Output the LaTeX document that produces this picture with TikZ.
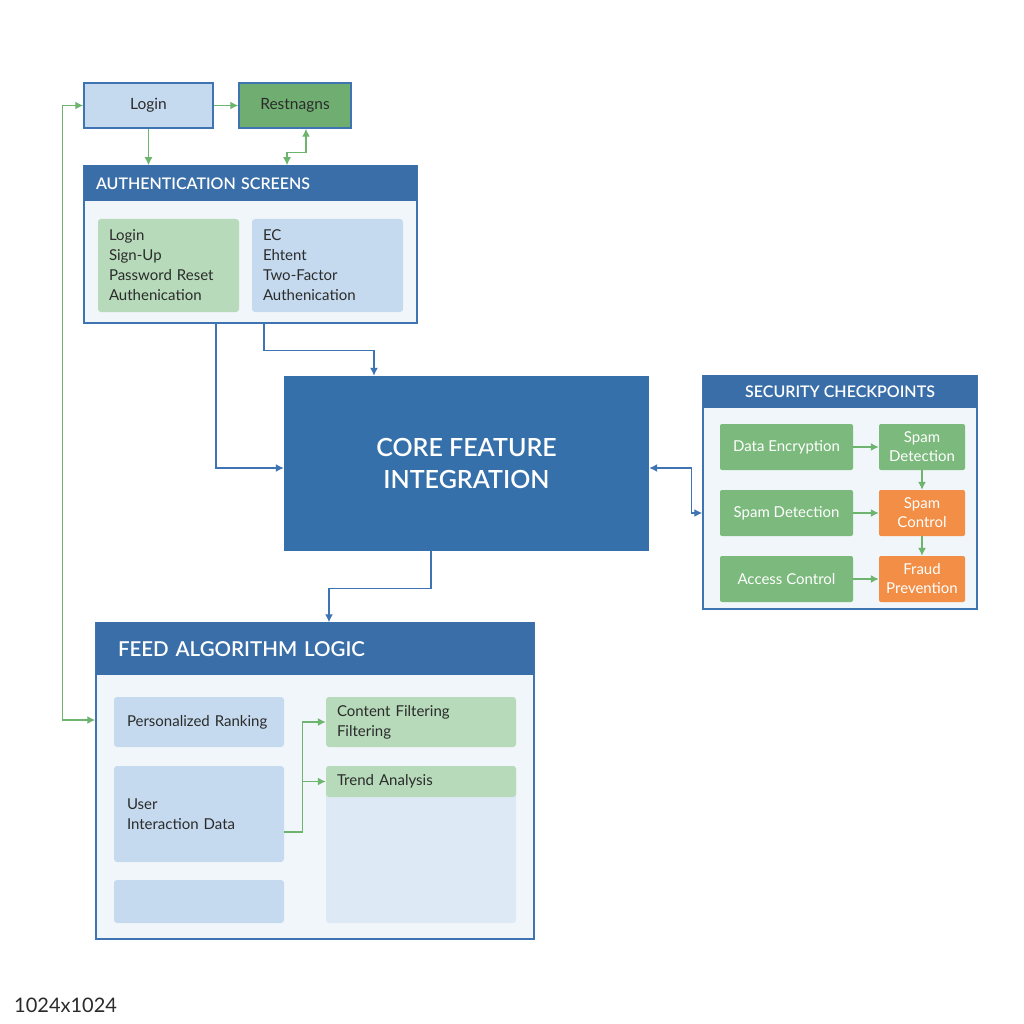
\documentclass[tikz,border=0pt]{standalone}
\usepackage{fontspec}
\setmainfont{Lato}
\newfontfamily\headfont{Lato Semibold}
\usetikzlibrary{positioning,arrows.meta}

\definecolor{hdrblue}{HTML}{3A6EA8}
\definecolor{edgeblue}{HTML}{3F74B2}
\definecolor{lightblue}{HTML}{C6DAEF}
\definecolor{panelbg}{HTML}{F1F6FA}
\definecolor{mintgreen}{HTML}{B6DABA}
\definecolor{midgreen}{HTML}{7BBA7C}
\definecolor{restgreen}{HTML}{6FAE70}
\definecolor{linkgreen}{HTML}{6DB56F}
\definecolor{alertorange}{HTML}{F28E45}
\definecolor{paleblue}{HTML}{DDE9F4}
\definecolor{corefill}{HTML}{3670AA}
\definecolor{textdark}{HTML}{2B2B2B}

\begin{document}
\begin{tikzpicture}[x=1pt,y=-1pt,>={Latex[length=8pt,width=8pt]},
  panel/.style={draw=edgeblue,line width=1.5pt,fill=panelbg,inner sep=0pt},
  header/.style={fill=hdrblue,inner sep=0pt,text=white,font=\headfont\fontsize{16}{19}\selectfont},
  subbox/.style={rounded corners=3pt,inner ysep=0pt,inner xsep=11pt,align=left,
    text=textdark,font=\fontsize{15}{20}\selectfont},
  checkbox/.style={rounded corners=2pt,inner sep=0pt,fill=midgreen,text=white,
    align=center,font=\fontsize{15}{19}\selectfont},
  bluelink/.style={draw=edgeblue,line width=1.4pt},
  greenlink/.style={draw=linkgreen,line width=1.4pt}]
\useasboundingbox[fill=white] (0,0) rectangle (1024,1024);

% top row
\node[draw=edgeblue,line width=1.5pt,fill=lightblue,minimum width=129pt,minimum height=45pt,
  text=textdark,font=\fontsize{15.5}{18}\selectfont] (login) at (148.5,105.5) {Login};
\node[draw=edgeblue,line width=1.5pt,fill=restgreen,minimum width=112pt,minimum height=45pt,
  text=textdark,font=\fontsize{15.5}{18}\selectfont] (rest) at (295,105.5) {Restnagns};

% authentication screens
\node[panel,minimum width=333pt,minimum height=157pt] (auth) at (250.5,244.5) {};
\node[header,minimum width=333pt,minimum height=36pt,text width=309pt,inner xsep=12pt,
  align=left,anchor=north] (authhead) at (auth.north) {AUTHENTICATION SCREENS};
\node[subbox,fill=mintgreen,minimum width=141pt,minimum height=93pt,text width=119pt]
  (authA) at (168.5,265.5) {Login\\Sign-Up\\Password Reset\\Authenication};
\node[subbox,fill=lightblue,minimum width=151pt,minimum height=93pt,text width=129pt]
  (authB) at (327.5,265.5) {EC\\Ehtent\\Two-Factor\\Authenication};

% core
\node[fill=corefill,minimum width=365pt,minimum height=175pt,align=center,text=white,
  font=\headfont\fontsize{25}{32}\selectfont] (core) at (466.5,463.5) {CORE FEATURE\\INTEGRATION};

% security checkpoints
\node[panel,minimum width=274pt,minimum height=233pt] (sec) at (840,492.5) {};
\node[header,minimum width=274pt,minimum height=33pt,anchor=north] (sechead) at (sec.north)
  {SECURITY CHECKPOINTS};
\node[checkbox,minimum width=133pt,minimum height=46pt] (encA) at (786.5,447) {Data Encryption};
\node[checkbox,minimum width=86pt,minimum height=46pt] (encB) at (922,447) {Spam\\Detection};
\node[checkbox,minimum width=133pt,minimum height=46pt] (spamA) at (786.5,513) {Spam Detection};
\node[checkbox,fill=alertorange,minimum width=86pt,minimum height=46pt] (spamB) at (922,513) {Spam\\Control};
\node[checkbox,minimum width=133pt,minimum height=46pt] (fraudA) at (786.5,579) {Access Control};
\node[checkbox,fill=alertorange,minimum width=86pt,minimum height=46pt] (fraudB) at (922,579) {Fraud\\Prevention};

% feed algorithm logic
\node[panel,minimum width=438pt,minimum height=316pt] (feed) at (315,781) {};
\node[header,minimum width=438pt,minimum height=53pt,text width=394pt,inner xsep=22pt,
  align=left,anchor=north,font=\headfont\fontsize{20.5}{25}\selectfont] (feedhead) at (feed.north)
  {FEED ALGORITHM LOGIC};
\node[subbox,fill=lightblue,minimum width=170pt,minimum height=50pt,text width=144pt,inner xsep=13pt]
  (rank) at (199,722) {Personalized Ranking};
\node[subbox,fill=lightblue,minimum width=170pt,minimum height=96pt,text width=144pt,inner xsep=13pt]
  (user) at (199,814) {User\\Interaction Data};
\node[subbox,fill=lightblue,minimum width=170pt,minimum height=43pt] (spare) at (199,901.5) {};
\node[subbox,fill=paleblue,minimum width=190pt,minimum height=157pt] (trendarea) at (421,844.5) {};
\node[subbox,fill=mintgreen,minimum width=190pt,minimum height=50pt,text width=168pt]
  (content) at (421,722) {Content Filtering\\Filtering};
\node[subbox,fill=mintgreen,minimum width=190pt,minimum height=31pt,text width=168pt]
  (trend) at (421,781.5) {Trend Analysis};

% connectors
\draw[greenlink,->] (login) -- (rest);
\draw[greenlink,->] (login.south) -- (login.south |- auth.north);
\draw[greenlink,<->] ([xshift=11pt]rest.south) -- ++(0,24) -| ([xshift=36.5pt]auth.north);
\draw[greenlink,<->] ([yshift=61pt]feed.west) -- ++(-33,0) |- (login.west);

\draw[bluelink,->] ([xshift=-34.5pt]auth.south) |- ([yshift=-4.5pt]core.west);
\draw[bluelink,->] ([xshift=13.5pt]auth.south) -- ++(0,27) -| ([xshift=-92.5pt]core.north);
\draw[bluelink,->] ([xshift=-35.5pt]core.south) -- ++(0,37) -| ([xshift=14pt]feed.north);
\draw[bluelink,<->] ([yshift=-4.5pt]core.east) -- ++(42,0) |- ([yshift=-20.5pt]sec.west);

\draw[greenlink,->] (encA) -- (encB);
\draw[greenlink,->] (spamA) -- (spamB);
\draw[greenlink,->] (fraudA) -- (fraudB);
\draw[greenlink,->] (encB) -- (spamB);
\draw[greenlink,->] (spamB) -- (fraudB);

\draw[greenlink,->] ([yshift=-18pt]user.east) -- ++(18,0) coordinate (fork) |- (content.west);
\draw[greenlink,->] (fork |- trend.west) -- (trend.west);

\node[anchor=west,text=textdark,inner sep=0pt,font=\fontsize{20}{22}\selectfont] (sizelabel)
  at (14,1005) {1024x1024};
\end{tikzpicture}
\end{document}
